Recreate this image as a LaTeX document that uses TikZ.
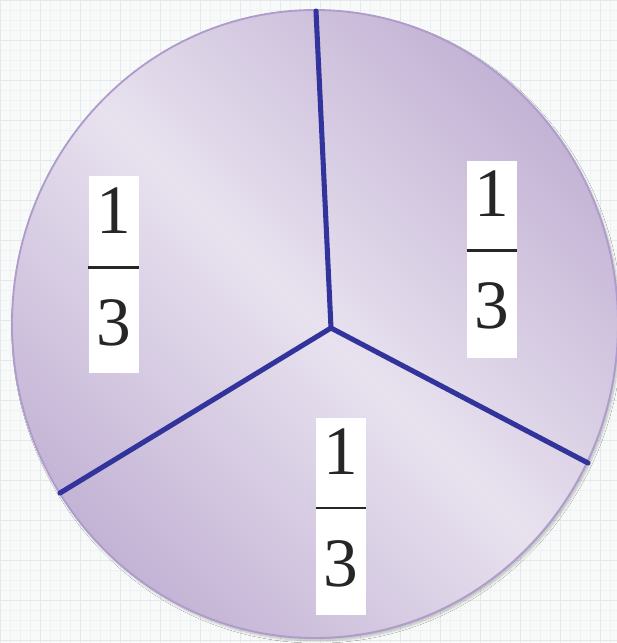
\documentclass[tikz,border=0pt]{standalone}
\usepackage{fontspec}
\setmainfont{Liberation Serif}
\usetikzlibrary{shadows.blur}
\definecolor{bgc}{HTML}{F8FAFA}
\definecolor{gridminor}{HTML}{EEF2F3}
\definecolor{gridmajor}{HTML}{E3E9EB}
\definecolor{pielight}{HTML}{E8E2EF}
\definecolor{piedark}{HTML}{C3B3D5}
\definecolor{pieedge}{HTML}{AE9DCB}
\definecolor{divline}{HTML}{33339C}
\tikzset{
  fracbox/.style={fill=white, draw=none, minimum width=37.5pt, minimum height=148pt, inner sep=0pt},
  digit/.style={font=\fontsize{52pt}{52pt}\selectfont, text=black!85, inner sep=0pt, anchor=base},
  fracbar/.style={line width=2.2pt, black!85},
  divider/.style={line width=3.8pt, divline, line cap=round},
}
\begin{document}
\begin{tikzpicture}[x=0.75pt, y=-0.75pt]
\useasboundingbox (0,0) rectangle (617,643);
% background with grid
\fill[bgc] (0,0) rectangle (617,643);
\draw[gridminor, line width=0.5pt, step=7.5pt] (0,0) grid (617,643);
\draw[gridmajor, line width=0.6pt, step=30pt] (0,0) grid (617,643);
% pie
\shade[top color=piedark, bottom color=piedark, middle color=pielight, shading angle=-45,
  blur shadow={shadow xshift=1.5pt, shadow yshift=-2pt, shadow opacity=25, shadow blur steps=6}]
  (315,324) ellipse [x radius=303, y radius=314];
\draw[pieedge, line width=1.4pt] (315,324) ellipse [x radius=303, y radius=314];
% dividers
\coordinate (c) at (331,328);
\coordinate (t) at (316,11);
\coordinate (l) at (60,493);
\coordinate (r) at (588,463);
\draw[divider] (c) -- (t);
\draw[divider] (c) -- (l);
\draw[divider] (c) -- (r);
% left fraction
\node[fracbox] (lbox) at (113.5,274.5) {};
\draw[fracbar] ([yshift=5.6pt]lbox.west) -- ([yshift=5.6pt]lbox.east);
\node[digit] (lnum) at (113.5,233) {1};
\node[digit] (lden) at (113.5,345) {3};
% right fraction
\node[fracbox] (rbox) at (492,259.5) {};
\draw[fracbar] ([yshift=7.1pt]rbox.west) -- ([yshift=7.1pt]rbox.east);
\node[digit] (rnum) at (492,216) {1};
\node[digit] (rden) at (492,328) {3};
% bottom fraction
\node[fracbox] (bbox) at (341,516.5) {};
\draw[fracbar] ([yshift=6.4pt]bbox.west) -- ([yshift=6.4pt]bbox.east);
\node[digit] (bnum) at (341,474) {1};
\node[digit] (bden) at (341,586) {3};
\end{tikzpicture}
\end{document}
